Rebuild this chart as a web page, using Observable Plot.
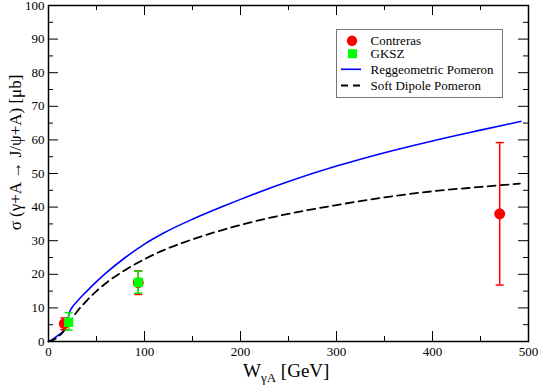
<!DOCTYPE html>
<html>
<head>
<meta charset="utf-8">
<script src="https://cdn.jsdelivr.net/npm/d3@7"></script>
<script src="https://cdn.jsdelivr.net/npm/@observablehq/plot@0.6"></script>
<style>
  html, body { margin: 0; padding: 0; background: #fff; }
  #chart svg { display: block; font-family: "Liberation Serif", "Times New Roman", serif !important; }
  #chart svg text { font-family: "Liberation Serif", "Times New Roman", serif !important; }
</style>
</head>
<body>
<div id="chart"></div>
<script>
// ---- data ----
const xMajor = [0, 100, 200, 300, 400, 500];
const xMinor = [50, 150, 250, 350, 450];
const yMajor = [0, 10, 20, 30, 40, 50, 60, 70, 80, 90, 100];
const yMinor = [5, 15, 25, 35, 45, 55, 65, 75, 85, 95];

// Reggeometric Pomeron (blue solid)
const regW = [0, 5, 10, 15, 18, 20, 22, 24, 30, 40, 50, 60, 80, 100, 120, 150, 180, 200, 250, 300, 350, 400, 450, 492];
const regS = [0, 0.8, 1.8, 3.0, 4.3, 6.5, 8.8, 9.9, 12.0, 15.0, 17.8, 20.4, 25.0, 29.0, 32.3, 36.4, 40.0, 42.3, 47.6, 52.2, 56.2, 59.7, 62.9, 65.5];

// Soft Dipole Pomeron (black dashed)
const sdpW = [0, 5, 10, 15, 20, 25, 30, 40, 50, 60, 80, 100, 120, 150, 180, 200, 240, 300, 350, 400, 450, 491];
const sdpS = [0, 0.5, 1.4, 2.8, 4.8, 7.0, 9.0, 12.2, 15.0, 17.4, 21.3, 24.5, 27.2, 30.4, 33.1, 34.7, 37.4, 40.6, 42.9, 44.7, 46.0, 47.0];

// Contreras (red circles)
const conW  = [16.5, 93.5, 470];
const conS  = [5.3, 17.5, 38.0];
const conLo = [3.5, 14.0, 16.8];
const conHi = [7.0, 21.0, 59.2];

// GKSZ (green squares)
const gkW  = [21, 93.5];
const gkS  = [5.7, 17.6];
const gkLo = [3.4, 14.4];
const gkHi = [8.6, 20.9];

const legendLabels = ["Contreras", "GKSZ", "Reggeometric Pomeron", "Soft Dipole Pomeron"];
const yTitle = "σ (γ+A → J/ψ+A) [μb]";

// ---- layout ----
const W = 540, H = 387;
const mL = 48, mR = 12, mT = 5, mB = 46;
const pxX = (W - mL - mR) / 500;
const pxY = (H - mT - mB) / 100;
const majLen = 10, minLen = 5;
const serif = "'Liberation Serif', 'Times New Roman', serif";

const reg = regW.map((w, i) => ({W: w, s: regS[i]}));
const sdp = sdpW.map((w, i) => ({W: w, s: sdpS[i]}));
const con = conW.map((w, i) => ({W: w, s: conS[i], lo: conLo[i], hi: conHi[i]}));
const gk = gkW.map((w, i) => ({W: w, s: gkS[i], lo: gkLo[i], hi: gkHi[i]}));

const capSymbol = {
  draw(ctx, size) {
    const r = Math.sqrt(size / Math.PI);
    ctx.moveTo(-r, 0);
    ctx.lineTo(r, 0);
  }
};

function errMarks(data, color) {
  return [
    Plot.ruleX(data, {x: "W", y1: "lo", y2: "hi", stroke: color, strokeWidth: 1.5}),
    Plot.dot(data, {x: "W", y: "lo", symbol: capSymbol, r: 4, stroke: color, strokeWidth: 1.5, fill: "none"}),
    Plot.dot(data, {x: "W", y: "hi", symbol: capSymbol, r: 4, stroke: color, strokeWidth: 1.5, fill: "none"})
  ];
}

const tickX = (arr, len) => [
  Plot.ruleX(arr, {x: d => d, y1: 0, y2: len / pxY, stroke: "#000", strokeWidth: 1}),
  Plot.ruleX(arr, {x: d => d, y1: 100, y2: 100 - len / pxY, stroke: "#000", strokeWidth: 1})
];
const tickY = (arr, len) => [
  Plot.ruleY(arr, {y: d => d, x1: 0, x2: len / pxX, stroke: "#000", strokeWidth: 1}),
  Plot.ruleY(arr, {y: d => d, x1: 500, x2: 500 - len / pxX, stroke: "#000", strokeWidth: 1})
];

const plot = Plot.plot({
  width: W, height: H,
  marginLeft: mL, marginRight: mR, marginTop: mT, marginBottom: mB,
  style: {fontFamily: serif, fontSize: "13px", background: "#fff", color: "#000"},
  x: {domain: [0, 500]},
  y: {domain: [0, 100]},
  marks: [
    Plot.axisX({ticks: xMajor, tickSize: 0, tickPadding: 5, label: null, tickFormat: d => String(d), fontSize: 13}),
    Plot.axisY({ticks: yMajor, tickSize: 0, tickPadding: 4, label: null, tickFormat: d => String(d), fontSize: 13}),
    ...tickX(xMajor, majLen), ...tickX(xMinor, minLen),
    ...tickY(yMajor, majLen), ...tickY(yMinor, minLen),
    Plot.line(reg, {x: "W", y: "s", stroke: "#0000ff", strokeWidth: 1.6, curve: "monotone-x"}),
    Plot.line(sdp, {x: "W", y: "s", stroke: "#000", strokeWidth: 1.8, strokeDasharray: "8,5", curve: "monotone-x"}),
    ...errMarks(con, "#ff0000"),
    Plot.dot(con, {x: "W", y: "s", r: 5.5, fill: "#ff0000", stroke: "none"}),
    ...errMarks(gk, "#00ee00"),
    Plot.dot(gk, {x: "W", y: "s", symbol: "square", r: 5.2, fill: "#00ff00", stroke: "none"}),
    Plot.frame({stroke: "#000", strokeWidth: 1.5}),
    Plot.text([yTitle], {text: d => d, frameAnchor: "left", textAnchor: "middle", dx: -33, dy: -21, rotate: -90, fontSize: 17, fill: "#000"})
  ]
});

document.getElementById("chart").appendChild(plot);

// ---- x axis title with subscript ----
const svg = d3.select(plot);
const xt = svg.append("text")
  .attr("x", 243).attr("y", 376.5)
  .attr("text-anchor", "start")
  .attr("font-family", serif)
  .attr("font-size", 19).attr("fill", "#000");
xt.append("tspan").text("W");
xt.append("tspan").attr("font-size", 13).attr("dy", 5).text("γA");
xt.append("tspan").attr("dy", -5).text("\u00a0[GeV]");

// ---- legend ----
const lg = svg.append("g")
  .attr("font-family", serif)
  .attr("text-anchor", "start")
  .attr("font-size", 13).attr("fill", "#000");
lg.append("rect").attr("x", 336.5).attr("y", 29.5).attr("width", 166).attr("height", 68)
  .attr("fill", "#fff").attr("stroke", "#777").attr("stroke-width", 1);
const rowY = [40.7, 53.7, 69.3, 85.5];
lg.append("circle").attr("cx", 352).attr("cy", rowY[0]).attr("r", 5.2).attr("fill", "#ff0000");
lg.append("rect").attr("x", 348).attr("y", rowY[1] - 4.5).attr("width", 9).attr("height", 9).attr("fill", "#00ff00");
lg.append("line").attr("x1", 341).attr("x2", 361).attr("y1", rowY[2]).attr("y2", rowY[2])
  .attr("stroke", "#0000ff").attr("stroke-width", 1.6);
lg.append("line").attr("x1", 341).attr("x2", 362).attr("y1", rowY[3]).attr("y2", rowY[3])
  .attr("stroke", "#000").attr("stroke-width", 1.8).attr("stroke-dasharray", "7,5");
legendLabels.forEach((t, i) => {
  lg.append("text").attr("x", 370.5).attr("y", rowY[i]).attr("dy", "0.35em")
    .attr("text-anchor", "start").text(t);
});
</script>
</body>
</html>
